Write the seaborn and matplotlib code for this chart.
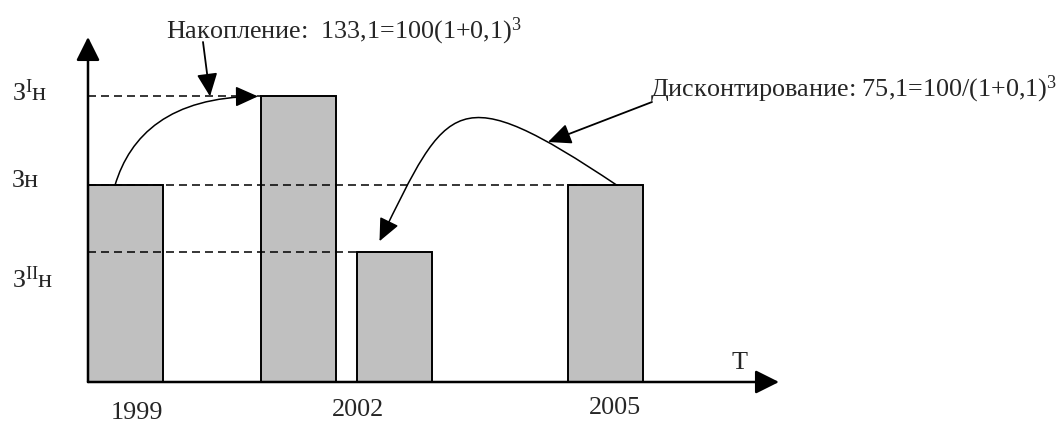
import numpy as np
import pandas as pd
import matplotlib
matplotlib.use("Agg")
import matplotlib.pyplot as plt
import seaborn as sns
from matplotlib.patches import FancyArrowPatch
from matplotlib.path import Path
from matplotlib.transforms import IdentityTransform

# ---- data -------------------------------------------------------------
periods = [1999, 2002, 2002, 2005]            # year each amount belongs to
values = [100.0, 133.1, 75.1, 100.0]          # amount of money
year_ticks = [1999, 2002, 2005]
level_values = [133.1, 100.0, 75.1]
level_labels = [r"З$^{\mathrm{I}}$н", "Зн", r"З$^{\mathrm{II}}$н"]
accum_text = r"Накопление:  133,1=100(1+0,1)$^{3}$"
disc_text = r"Дисконтирование: 75,1=100/(1+0,1)$^{3}$"
time_label = "T"

# ---- style ------------------------------------------------------------
sns.set_theme(style="white")
plt.rcParams["font.family"] = ["Liberation Serif", "DejaVu Serif"]
plt.rcParams["mathtext.fontset"] = "custom"
plt.rcParams["mathtext.rm"] = "Liberation Serif"
plt.rcParams["mathtext.it"] = "Liberation Serif:italic"
plt.rcParams["mathtext.bf"] = "Liberation Serif:bold"
FS = 18.8
BAR_FILL = "#c0c0c0"

W, H = 1064, 424
fig = plt.figure(figsize=(W / 100, H / 100), dpi=100)
fig.patch.set_facecolor("white")
ax = fig.add_axes([88 / W, 42 / H, 691 / W, 345 / H])

# bars of 2002 are drawn side by side around that year
bar_shift = [0.0, -0.8375, 0.3625, 0.0]
bar_w = 0.9375
df = pd.DataFrame({"pos": np.array(periods) + np.array(bar_shift), "value": values})
gap = np.min(np.diff(np.unique(df["pos"])))
sns.barplot(data=df, x="pos", y="value", native_scale=True, width=bar_w / gap,
            color=BAR_FILL, saturation=1, edgecolor="black", linewidth=1.4,
            errorbar=None, ax=ax, zorder=2)

x0 = 1999 - 37.5 / 80
ax.set_xlim(x0, x0 + 691 / 80)
ax.set_ylim(26.8, 155.2)
ax.set_xticks([])
ax.set_yticks([])
ax.set_xlabel("")
ax.set_ylabel("")
for s in ax.spines.values():
    s.set_visible(False)

# dashed guide lines from the value axis to the bars
left_edges = df["pos"].to_numpy() - bar_w / 2
guide_ends = [left_edges[1], left_edges[3] + 0.28, left_edges[2]]
dash = (0, (8 / 1.389 / 1.1, 5 / 1.389 / 1.1))
for v, xe in zip(level_values, guide_ends):
    ax.plot([x0, xe], [v, v], color="black", lw=1.1, linestyle=dash, zorder=3)

# axes drawn as arrows
head = "-|>,head_length=1.0,head_width=0.5"
ax.annotate("", xy=(1, 0), xytext=(0, 0), xycoords="axes fraction",
            arrowprops=dict(arrowstyle=head, mutation_scale=14.4, lw=1.8,
                            color="black", shrinkA=0, shrinkB=0), zorder=4)
ax.annotate("", xy=(0, 1), xytext=(0, 0), xycoords="axes fraction",
            arrowprops=dict(arrowstyle=head, mutation_scale=14.4, lw=1.8,
                            color="black", shrinkA=0, shrinkB=0), zorder=4)

# labels of the value levels
level_dy = [5, 2, 36]
for lab, v, dy in zip(level_labels, level_values, level_dy):
    ax.annotate(lab, xy=(0, v), xycoords=("axes fraction", "data"),
                xytext=(12 - 88, -dy), textcoords="offset pixels",
                ha="left", va="baseline", fontsize=FS)

# year labels under the time axis
year_dx = [11.5, -7.5, 9.5]
year_dy = [37, 34, 32]
for yr, dx, dy in zip(year_ticks, year_dx, year_dy):
    ax.annotate(str(yr), xy=(yr, 0), xycoords=("data", "axes fraction"),
                xytext=(dx, -dy), textcoords="offset pixels",
                ha="center", va="baseline", fontsize=FS)

fig.text(740 / W, 1 - 369 / H, time_label, ha="center", va="baseline", fontsize=FS)
fig.text(166 / W, 1 - 38 / H, accum_text, ha="left", va="baseline", fontsize=FS)
fig.text(650 / W, 1 - 96 / H, disc_text, ha="left", va="baseline", fontsize=FS)


# ---- arrows of the scheme (pixel space, origin top-left) ------------
def px(x, y):
    return (x, H - y)


def data_px(x, y):
    dx, dy = ax.transData.transform((x, y))
    return dx, dy


def add_arrow(verts, codes, lw=1.1):
    p = FancyArrowPatch(path=Path(verts, codes),
                        arrowstyle="-|>,head_length=1.0,head_width=0.45",
                        mutation_scale=14, lw=lw, color="black",
                        transform=IdentityTransform(), zorder=5)
    fig.add_artist(p)


pos = df["pos"].to_numpy()
ppx = 80.0  # pixels per year

# accumulation: curve from the 1999 bar to the accumulated bar
s0 = data_px(pos[0] - 10.5 / ppx, values[0])
s3 = data_px(left_edges[1] - 3 / ppx, values[1])
add_arrow([s0, px(130, 135), px(170, 97), s3],
          [Path.MOVETO, Path.CURVE4, Path.CURVE4, Path.CURVE4])

# pointer from the accumulation caption
t_end = data_px(x0, values[1])
add_arrow([px(203, 42), (210, t_end[1])], [Path.MOVETO, Path.LINETO], lw=1.3)

# discounting: curve from the 2005 bar to the discounted bar
d0 = data_px(pos[3] + 11.5 / ppx, values[3])
d3 = data_px(pos[2] - 15 / ppx, values[2])
d3 = (d3[0], d3[1] + 11)
add_arrow([d0, px(455, 77), px(448, 101), d3],
          [Path.MOVETO, Path.CURVE4, Path.CURVE4, Path.CURVE4])

# pointer from the discounting caption
add_arrow([px(652, 102), px(548, 142)], [Path.MOVETO, Path.LINETO], lw=1.3)

fig.savefig("out.png", dpi=100, facecolor="white")
